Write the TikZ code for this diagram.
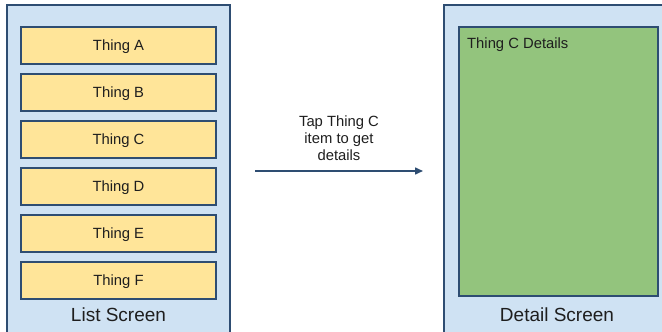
\documentclass[tikz,border=0pt]{standalone}
\usepackage{fontspec}
\setmainfont{Liberation Sans}
\usetikzlibrary{arrows.meta}
\definecolor{screenfill}{HTML}{CFE2F3}
\definecolor{edgeblue}{HTML}{2E4D72}
\definecolor{itemfill}{HTML}{FFE599}
\definecolor{detailfill}{HTML}{93C47D}
\definecolor{txt}{HTML}{1E1E1E}
\tikzset{
  screen/.style={draw=edgeblue, line width=1.5pt, fill=screenfill, minimum width=223pt, minimum height=340pt, inner sep=0pt},
  item/.style={draw=edgeblue, line width=1.4pt, fill=itemfill, minimum width=195pt, minimum height=37pt, inner sep=0pt, text height=10.6pt, text depth=0pt, text=txt, font=\fontsize{14.8}{17}\selectfont},
  detail/.style={draw=edgeblue, line width=1.4pt, fill=detailfill, minimum width=199pt, minimum height=269pt, inner sep=0pt},
  caption/.style={text=txt, font=\fontsize{19}{22}\selectfont, inner sep=0pt},
  small/.style={text=txt, font=\fontsize{14.8}{17}\selectfont, inner sep=0pt},
  flow/.style={draw=edgeblue, line width=1.5pt, -{Triangle[length=8pt,width=7pt]}}
}
\begin{document}
\begin{tikzpicture}[x=1pt,y=-1pt]
\useasboundingbox (0,0) rectangle (662,332);
\clip (0,0) rectangle (662,332);
\fill[white] (0,0) rectangle (662,332);
% list screen
\node[screen] (list) at (118.5,175) {};
\node[item] (a) at (118.5,45.5) {Thing A};
\node[item] (b) at (118.5,92.5) {Thing B};
\node[item] (c) at (118.5,139.5) {Thing C};
\node[item] (d) at (118.5,186.5) {Thing D};
\node[item] (e) at (118.5,233.5) {Thing E};
\node[item] (f) at (118.5,280.5) {Thing F};
\node[caption] (listlabel) at (118.5,315) {List Screen};
% detail screen
\node[screen, minimum width=226pt] (detailscreen) at (557,175) {};
\node[detail] (green) at (558.5,161.5) {};
\node[small, anchor=west] (greenlabel) at (467,44.5) {Thing C Details};
\node[caption] (detaillabel) at (557,315) {Detail Screen};
% arrow
\coordinate (from) at (255,171);
\coordinate (to) at (423,171);
\draw[flow] (from) -- (to);
\node[small, align=center] (tap) at (339,138) {Tap Thing C\\item to get\\details};
\end{tikzpicture}
\end{document}
